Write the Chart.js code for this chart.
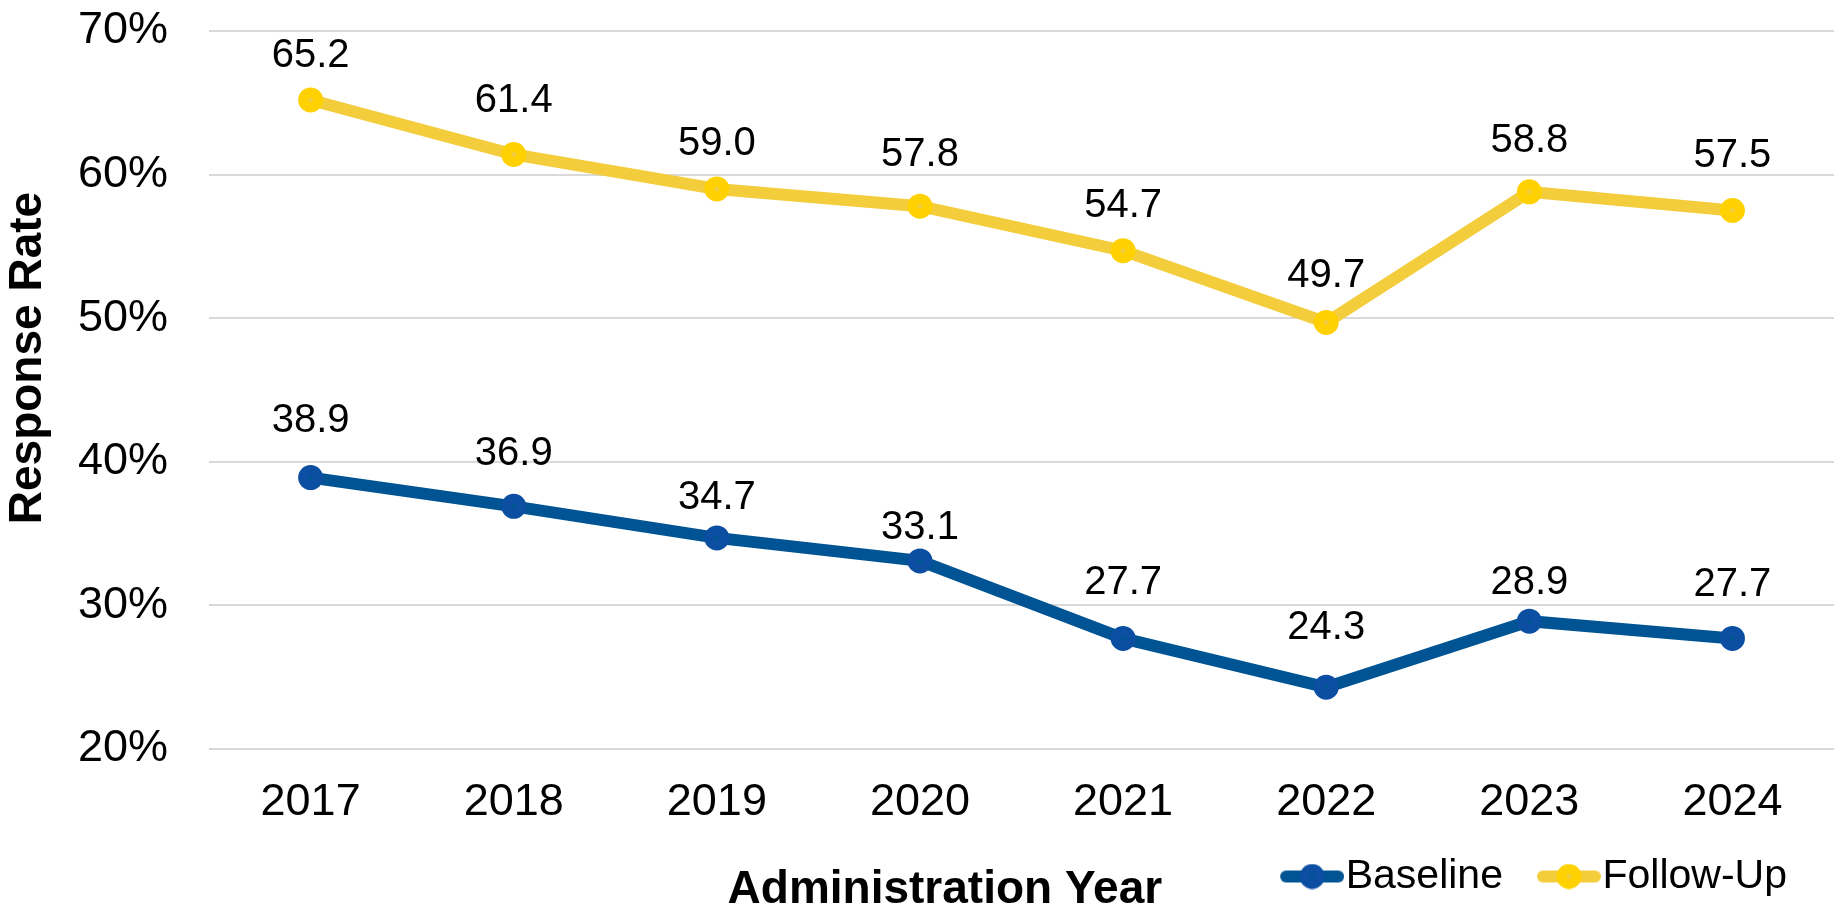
<!DOCTYPE html>
<html>
<head>
<meta charset="utf-8">
<script src="https://cdn.jsdelivr.net/npm/chart.js@4"></script>
<style>
  html, body { margin: 0; padding: 0; background: #ffffff; }
  #wrap { width: 1843px; height: 907px; }
</style>
</head>
<body>
<div id="wrap"><canvas id="chart" width="1843" height="907"></canvas></div>
<script>
const years = ['2017', '2018', '2019', '2020', '2021', '2022', '2023', '2024'];
const baseline = [38.9, 36.9, 34.7, 33.1, 27.7, 24.3, 28.9, 27.7];
const followUp = [65.2, 61.4, 59.0, 57.8, 54.7, 49.7, 58.8, 57.5];
const yTicks = [20, 30, 40, 50, 60, 70];

// how far (px) each value label sits above its point
const baselineLabelLift = [57, 52, 40, 33, 55, 59, 38, 53];
const followUpLabelLift = [44, 54, 45, 51, 45, 47, 51, 55];

const FONT = '"Liberation Sans", Arial, Helvetica, sans-serif';
const BLUE_LINE = '#005493';
const BLUE_DOT = '#0B4EA2';
const GOLD_LINE = '#F4CD3C';
const GOLD_DOT = '#FFD100';

// horizontal nudge for the legend row (px, negative = left)
const LEGEND_NUDGE = -12;

// legend swatch: a short thick line with a marker dot on it
function legendMarker(lineColor, dotColor) {
  const c = document.createElement('canvas');
  c.width = 82; c.height = 26;
  const g = c.getContext('2d');
  g.strokeStyle = lineColor; g.lineWidth = 12; g.lineCap = 'round';
  g.beginPath(); g.moveTo(24, 13); g.lineTo(76, 13); g.stroke();
  g.fillStyle = dotColor;
  g.beginPath(); g.arc(50, 13, 12.5, 0, Math.PI * 2); g.fill();
  g.fillStyle = lineColor;
  g.beginPath(); g.arc(50, 13, 2.5, 0, Math.PI * 2); g.fill();
  return c;
}
const markers = [legendMarker(BLUE_LINE, BLUE_DOT), legendMarker(GOLD_LINE, GOLD_DOT)];

// value labels drawn above each point
const valueLabels = {
  id: 'valueLabels',
  afterDatasetsDraw(chart) {
    const ctx = chart.ctx;
    ctx.save();
    ctx.font = '40px ' + FONT;
    ctx.fillStyle = '#000000';
    ctx.textAlign = 'center';
    ctx.textBaseline = 'middle';
    chart.data.datasets.forEach((ds, i) => {
      const meta = chart.getDatasetMeta(i);
      meta.data.forEach((pt, j) => {
        ctx.fillText(ds.data[j].toFixed(1), pt.x, pt.y - ds.labelLift[j]);
      });
    });
    ctx.restore();
  }
};

// slide the legend row sideways after the layout has placed it
const legendNudge = {
  id: 'legendNudge',
  afterLayout(chart) {
    if (chart.legend) {
      chart.legend.left += LEGEND_NUDGE;
      chart.legend.right += LEGEND_NUDGE;
    }
  }
};

function series(label, data, lift, lineColor, dotColor) {
  return {
    label: label,
    data: data,
    labelLift: lift,
    borderColor: lineColor,
    backgroundColor: lineColor,
    borderWidth: 12,
    pointRadius: 7.5,
    pointHoverRadius: 7.5,
    pointBorderWidth: 10,
    pointBackgroundColor: lineColor,
    pointBorderColor: dotColor,
    tension: 0,
    fill: false
  };
}

// keep the plot area edges fixed by the layout padding alone
function noEdgePadding(scale) {
  scale.paddingTop = 0;
  scale.paddingBottom = 0;
  scale.paddingLeft = 0;
  scale.paddingRight = 0;
}

new Chart(document.getElementById('chart'), {
  type: 'line',
  data: {
    labels: years,
    datasets: [
      series('Baseline', baseline, baselineLabelLift, BLUE_LINE, BLUE_DOT),
      series('Follow-Up', followUp, followUpLabelLift, GOLD_LINE, GOLD_DOT)
    ]
  },
  options: {
    responsive: false,
    devicePixelRatio: 1,
    animation: false,
    layout: { autoPadding: false, padding: { top: 31, right: 9, bottom: 0, left: 0 } },
    plugins: {
      tooltip: { enabled: false },
      legend: {
        position: 'bottom',
        align: 'end',
        fullSize: false,
        labels: {
          usePointStyle: true,
          pointStyleWidth: 44,
          padding: 35,
          color: '#000000',
          font: { family: FONT, size: 41 },
          generateLabels(chart) {
            const items = Chart.defaults.plugins.legend.labels.generateLabels(chart);
            items.forEach((it, i) => { it.pointStyle = markers[i]; });
            return items;
          }
        }
      }
    },
    scales: {
      x: {
        offset: true,
        afterFit: noEdgePadding,
        grid: { display: false, drawTicks: false },
        border: { display: false },
        ticks: { color: '#000000', padding: 27, font: { family: FONT, size: 45 } },
        title: {
          display: true,
          text: 'Administration Year            ',
          color: '#000000',
          font: { family: FONT, size: 46, weight: 'bold' },
          padding: { top: 5.4, bottom: -96.6 }
        }
      },
      y: {
        min: 20,
        max: 70,
        afterFit: noEdgePadding,
        afterBuildTicks(scale) { scale.ticks = yTicks.map(v => ({ value: v })); },
        grid: { color: '#D9D9D9', lineWidth: 2, drawTicks: false },
        border: { display: false },
        ticks: {
          color: '#000000',
          padding: 41,
          font: { family: FONT, size: 45 },
          callback: v => v + '%'
        },
        title: {
          display: true,
          text: '     Response Rate',
          color: '#000000',
          font: { family: FONT, size: 46, weight: 'bold' },
          padding: { top: 0.4, bottom: -18.6 }
        }
      }
    }
  },
  plugins: [valueLabels, legendNudge]
});
</script>
</body>
</html>
